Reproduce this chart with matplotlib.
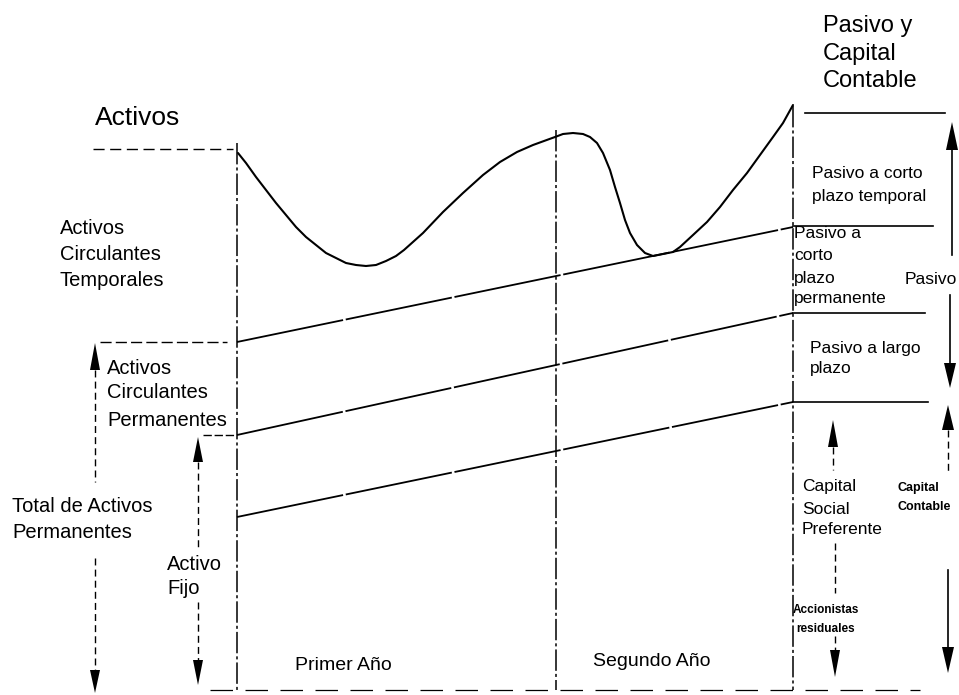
import matplotlib
matplotlib.use("Agg")
import matplotlib.pyplot as plt

plt.rcParams['font.family'] = ['Liberation Sans', 'DejaVu Sans']

# ---------------- data (diagram units: pixel-like canvas, y grows downward) -------------
period_bounds = [237, 556, 793]            # start, end of year 1, end of year 2
period_tops = [143, 130, 106]
period_labels = ["Primer Año", "Segundo Año"]
period_label_x = [343, 652]
period_label_y = [665, 662]

# straight trend lines: value at start (x=237) and at end (x=793)
fixed_assets = [517, 402]
permanent_current = [435, 313]
temporary_base = [342, 227]

# total assets curve
curve_x = [238, 246, 256, 266, 276, 286, 296, 306, 316, 326, 336, 346, 356, 366,
           376, 386, 396, 404, 423, 443, 463, 483, 500, 517, 533, 555, 563, 573,
           583, 590, 597, 603, 610, 615, 620, 625, 630, 637, 645, 653, 663, 673,
           680, 693, 707, 720, 733, 747, 760, 773, 783, 793]
curve_y = [153, 163, 177, 190, 203, 215, 227, 237, 245, 253, 258, 263, 265, 266,
           265, 261, 256, 250, 233, 212, 193, 175, 162, 152, 145, 137, 134, 133,
           134, 137, 143, 153, 170, 187, 203, 220, 233, 245, 253, 256, 254, 252,
           247, 235, 222, 207, 190, 173, 155, 137, 123, 105]

# right-hand side partition lines (y, x start, x end)
right_lines_y = [113, 226, 313, 402]
right_lines_x0 = [805, 793, 793, 793]
right_lines_x1 = [945, 933, 925, 928]

# ----------------------------------------------------------------------------------------
fig = plt.figure(figsize=(9.59, 6.95), dpi=100)
ax = fig.add_axes([0, 0, 1, 1])
ax.set_xlim(0, 959)
ax.set_ylim(695, 0)
ax.axis('off')

K = 'black'

# vertical period lines
for x, top in zip(period_bounds, period_tops):
    ax.plot([x, x], [top, 690], color=K, lw=1.1, ls=(0, (14, 2, 2, 2)))

# bottom baseline (faint dashed)
ax.plot([210, 920], [690, 690], color=K, lw=0.9, ls=(0, (18, 10)))

# trend lines
x_ends = [period_bounds[0], period_bounds[-1]]
for ys in (fixed_assets, permanent_current, temporary_base):
    ax.plot(x_ends, ys, color=K, lw=1.3, ls=(0, (60, 1.5)))

# total assets curve
ax.plot(curve_x, curve_y, color=K, lw=1.5, solid_capstyle='round',
        solid_joinstyle='round')

# left dashed reference lines
ax.plot([93, 233], [149, 149], color=K, lw=1.0, ls=(0, (8, 4)))
ax.plot([100, 227], [342, 342], color=K, lw=1.0, ls=(0, (8, 3)))
ax.plot([203, 235], [435, 435], color=K, lw=1.0, ls=(0, (6, 2)))

# right side lines
for y, x0, x1 in zip(right_lines_y, right_lines_x0, right_lines_x1):
    ax.plot([x0, x1], [y, y], color=K, lw=1.2)


def head(x, tip, base, half=5):
    ax.fill([x - half, x + half, x], [base, base, tip], color=K, lw=0)


def vseg(x, y0, y1, dashed=True, lw=1.0):
    ax.plot([x, x], [y0, y1], color=K, lw=lw,
            ls=(0, (5, 3)) if dashed else '-')


# Total de Activos Permanentes arrow
head(95, 343, 370, 5)
vseg(95, 370, 482)
vseg(95, 558, 670)
head(95, 693, 670, 5)

# Activo Fijo arrow
head(198, 437, 462, 5)
vseg(198, 462, 547)
vseg(198, 602, 660)
head(198, 685, 660, 5)

# Pasivo arrow
head(952, 122, 150, 6)
vseg(952, 150, 255, dashed=False, lw=1.2)
vseg(950, 295, 363, dashed=False, lw=1.2)
head(950, 388, 363, 6)

# Capital Contable arrow
head(948, 405, 430, 6)
vseg(948, 430, 473)
vseg(948, 570, 647, dashed=False, lw=1.2)
head(948, 673, 647, 6)

# Capital Social Preferente / Accionistas residuales arrow
head(833, 420, 447, 5)
vseg(833, 447, 470)
vseg(835, 543, 593)
vseg(835, 636, 650)
head(835, 677, 650, 5)

# ---------------- texts ----------------
def lines(x, ys, txts, size, ha='left', weight='normal'):
    for y, t in zip(ys, txts):
        ax.text(x, y, t, fontsize=size, ha=ha, va='center', color=K, fontweight=weight)


lines(95, [118], ["Activos"], 19)
lines(823, [26, 54, 81], ["Pasivo y", "Capital", "Contable"], 17)
lines(60, [229, 254, 280], ["Activos", "Circulantes", "Temporales"], 14.5)
lines(107, [369, 393, 420], ["Activos", "Circulantes", "Permanentes"], 14.5)
lines(12, [507, 532], ["Total de Activos", "Permanentes"], 14.5)
lines(167, [565, 588], ["Activo", "Fijo"], 14.5)
for t, x, y in zip(period_labels, period_label_x, period_label_y):
    ax.text(x, y, t, fontsize=14, ha='center', va='center', color=K)

lines(812, [173, 196], ["Pasivo a corto", "plazo temporal"], 12.5)
lines(794, [233, 256, 278, 298], ["Pasivo a", "corto", "plazo", "permanente"], 12.5)
lines(931, [279], ["Pasivo"], 12.5, ha='center')
lines(810, [348, 369], ["Pasivo a largo", "plazo"], 12.5)
lines(802, [487, 509, 530], ["Capital", "Social", "Preferente"], 12.5)
lines(898, [488, 507], ["Capital", "Contable"], 9, weight='bold')
lines(793, [610], ["Accionistas"], 8.5, weight='bold')
lines(796, [629], ["residuales"], 8.5, weight='bold')

fig.savefig("out.png", dpi=100, facecolor='white')
